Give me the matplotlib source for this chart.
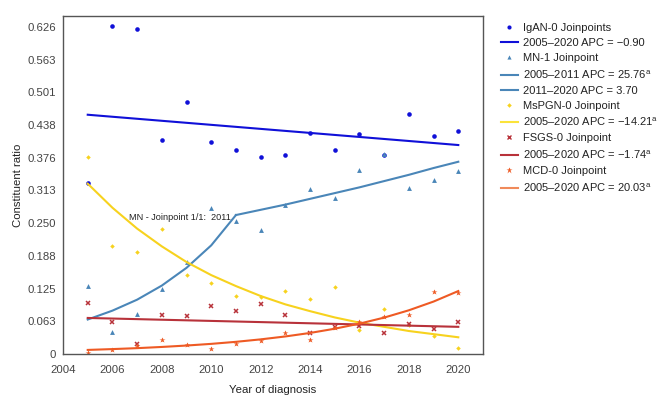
import numpy as np
import matplotlib.pyplot as plt
from matplotlib.lines import Line2D

plt.rcParams['font.family'] = ['Liberation Sans', 'DejaVu Sans']
plt.rcParams['mathtext.fontset'] = 'custom'
plt.rcParams['mathtext.rm'] = 'Liberation Sans'

years = np.arange(2005, 2021)

# observed constituent ratios
igan = [0.327, 0.627, 0.623, 0.410, 0.483, 0.405, 0.391, 0.377,
        0.381, 0.423, 0.391, 0.421, 0.381, 0.460, 0.417, 0.426]
mn = [0.131, 0.042, 0.076, 0.125, 0.176, 0.279, 0.255, 0.238,
      0.286, 0.316, 0.299, 0.352, 0.383, 0.317, 0.333, 0.350]
mspgn = [0.378, 0.207, 0.195, 0.239, 0.151, 0.136, 0.111, 0.109,
         0.121, 0.105, 0.128, 0.045, 0.086, 0.056, 0.034, 0.011]
fsgs = [0.097, 0.062, 0.020, 0.075, 0.073, 0.091, 0.082, 0.096,
        0.075, 0.041, 0.051, 0.054, 0.040, 0.057, 0.048, 0.061]
mcd = [0.002, 0.008, 0.015, 0.026, 0.018, 0.009, 0.020, 0.024,
       0.041, 0.026, 0.050, 0.062, 0.070, 0.075, 0.118, 0.116]

# fitted joinpoint lines
igan_fit_x = [2005, 2020]
igan_fit = [0.458, 0.400]
mn_fit_x1 = [2005, 2006, 2007, 2008, 2009, 2010, 2011]
mn_fit1 = [0.066, 0.083, 0.104, 0.131, 0.165, 0.208, 0.266]
mn_fit_x2 = [2011, 2012, 2013, 2014, 2015, 2016, 2017, 2018, 2019, 2020]
mn_fit2 = [0.266, 0.276, 0.286, 0.297, 0.308, 0.319, 0.331, 0.343, 0.356, 0.368]
mspgn_fit = [0.326, 0.280, 0.240, 0.206, 0.176, 0.151, 0.130, 0.111,
             0.095, 0.082, 0.070, 0.060, 0.052, 0.044, 0.038, 0.032]
fsgs_fit_x = [2005, 2020]
fsgs_fit = [0.069, 0.052]
mcd_fit = [0.0078, 0.0094, 0.0112, 0.0135, 0.0162, 0.0194, 0.0233, 0.0280,
           0.0336, 0.0403, 0.0484, 0.0581, 0.0697, 0.0837, 0.1004, 0.1205]

yticks = [0, 0.0626, 0.1252, 0.1878, 0.2504, 0.313, 0.3756, 0.4382, 0.5008, 0.5634, 0.626]
ytick_labels = ['0', '0.063', '0.125', '0.188', '0.250', '0.313', '0.376',
                '0.438', '0.501', '0.563', '0.626']

c_igan = '#1010d8'
c_mn = '#4a86b8'
c_mspgn = '#f7d21e'
c_fsgs = '#b8323a'
c_mcd = '#ee5a24'

fig = plt.figure(figsize=(6.62, 4.0), dpi=100)
ax = fig.add_axes([0.0952, 0.115, 0.6344, 0.845])

ax.plot(years, igan, 'o', color=c_igan, ms=3.3, mec='none')
ax.plot(igan_fit_x, igan_fit, color=c_igan, lw=1.5)
ax.plot(years, mn, '^', color=c_mn, ms=3.5, mec='none')
ax.plot(mn_fit_x1, mn_fit1, color=c_mn, lw=1.5)
ax.plot(mn_fit_x2, mn_fit2, color=c_mn, lw=1.5)
ax.plot(years, mspgn, 'D', color=c_mspgn, ms=2.3, mec='none')
ax.plot(years, mspgn_fit, color=c_mspgn, lw=1.5)
ax.plot(years, fsgs, 'x', color=c_fsgs, ms=3.3, mew=1.1)
ax.plot(fsgs_fit_x, fsgs_fit, color=c_fsgs, lw=1.5)
ax.plot(years, mcd, '*', color=c_mcd, ms=4, mec='none')
ax.plot(years, mcd_fit, color=c_mcd, lw=1.5)

ax.text(2010.8, mn_fit1[-1] - 0.004, 'MN - Joinpoint 1/1:  2011', ha='right', va='center',
        fontsize=6.6, color='#222222')

ax.set_xlim(2004, 2021)
ax.set_ylim(0, 0.647)
ax.set_xticks(np.arange(2004, 2021, 2))
ax.set_yticks(yticks)
ax.set_yticklabels(ytick_labels)
ax.tick_params(length=0, labelsize=8.2, colors='#444444', pad=5)
ax.tick_params(axis='x', pad=8)
for s in ax.spines.values():
    s.set_color('#555555')
    s.set_linewidth(1.0)
ax.set_xlabel('Year of diagnosis', fontsize=8.2, color='#222222', labelpad=7)
ax.set_ylabel('Constituent ratio', fontsize=8.2, color='#222222', labelpad=3)

handles = [
    Line2D([], [], ls='none', marker='o', color=c_igan, ms=3, mec='none'),
    Line2D([], [], color=c_igan, lw=1.5),
    Line2D([], [], ls='none', marker='^', color=c_mn, ms=3, mec='none'),
    Line2D([], [], color=c_mn, lw=1.5),
    Line2D([], [], color=c_mn, lw=1.5),
    Line2D([], [], ls='none', marker='D', color=c_mspgn, ms=2.3, mec='none'),
    Line2D([], [], color='#fbe33a', lw=1.5),
    Line2D([], [], ls='none', marker='x', color=c_fsgs, ms=3, mew=1),
    Line2D([], [], color=c_fsgs, lw=1.5),
    Line2D([], [], ls='none', marker='*', color=c_mcd, ms=4.5, mec='none'),
    Line2D([], [], color='#f08a5a', lw=1.5),
]
labels = [
    'IgAN-0 Joinpoints',
    '2005\u20132020 APC = \u22120.90',
    'MN-1 Joinpoint',
    '2005\u20132011 APC = 25.76$^\\mathrm{a}$',
    '2011\u20132020 APC = 3.70',
    'MsPGN-0 Joinpoint',
    '2005\u20132020 APC = \u221214.21$^\\mathrm{a}$',
    'FSGS-0 Joinpoint',
    '2005\u20132020 APC = \u22121.74$^\\mathrm{a}$',
    'MCD-0 Joinpoint',
    '2005\u20132020 APC = 20.03$^\\mathrm{a}$',
]
fig.legend(handles, labels, loc='upper left', bbox_to_anchor=(0.741, 0.968),
           frameon=False, fontsize=8.0, handlelength=1.55, handletextpad=0.45,
           labelspacing=0.46, labelcolor='#222222')

fig.savefig('out.png', dpi=100)
